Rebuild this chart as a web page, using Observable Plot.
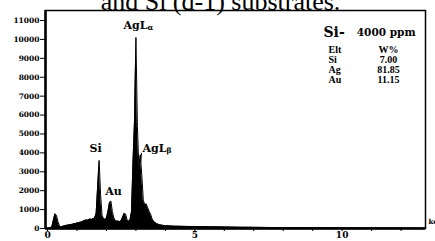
<!DOCTYPE html>
<html>
<head>
<meta charset="utf-8">
<script src="https://cdn.jsdelivr.net/npm/d3@7"></script>
<script src="https://cdn.jsdelivr.net/npm/@observablehq/plot@0.6"></script>
<style>
  html, body { margin: 0; padding: 0; background: white; }
  #chart svg { display: block; }
</style>
</head>
<body>
<div id="chart"></div>
<script>
// EDS spectrum (energy in keV, counts)
const energy = [
  0.00,0.05,0.10,0.15,0.20,0.25,0.30,0.35,0.40,0.45,
  0.50,0.55,0.60,0.65,0.70,0.75,0.80,0.85,0.90,0.95,
  1.00,1.05,1.10,1.15,1.20,1.25,1.30,1.35,1.40,1.45,
  1.50,1.55,1.60,1.65,1.70,1.75,1.80,1.85,1.90,1.95,
  2.00,2.05,2.10,2.15,2.20,2.25,2.30,2.35,2.40,2.45,
  2.50,2.55,2.60,2.65,2.70,2.75,2.80,2.85,2.90,2.95,
  3.00,3.05,3.10,3.15,3.20,3.25,3.30,3.35,3.40,3.45,
  3.50,3.55,3.60,3.65,3.70,3.75,3.80,3.85,3.90,3.95,
  4.00,4.10,4.20,4.30,4.40,4.50,4.75,5.00,5.50,6.00,
  6.50,7.00,7.50,8.00,8.50,9.00,9.50,10.00,10.50,11.00,
  11.50,12.00,12.50,12.80
];
const counts = [
  0,10,30,120,450,780,700,380,150,90,
  110,130,150,170,180,200,210,230,250,260,
  290,300,330,340,380,420,450,430,470,500,
  480,520,560,800,2200,3600,1800,700,520,480,
  560,900,1350,1450,900,560,420,380,400,350,
  420,600,800,760,450,380,450,900,3500,5600,
  10100,5400,3200,3900,2800,1500,1250,1300,1100,900,
  750,500,380,320,260,230,200,180,170,160,
  150,140,130,125,120,115,110,105,95,85,
  70,60,55,50,45,40,35,30,28,25,
  22,20,18,15
];

const yTicks = [0,1000,2000,3000,4000,5000,6000,7000,8000,9000,10000,11000];
const xTicks = [0,1,2,3,4,5,6,7,8,9,10,11,12];
const xTickLabels = [0,5,10];

// peak annotations (label text and anchor in keV / counts)
const peakNames = ["Si","Au"];
const peakNameX = [1.63, 2.24];
const peakNameY = [4230, 1960];
const agNames = ["AgL","AgL"];
const agSubs = ["α","β"];
const agX = [2.58, 3.22];
const agY = [10740, 4230];

const caption = "and Si (d-1) substrates.";
const sampleTitle = "Si-";
const sampleConc = "4000 ppm";
const tableElt = ["Elt","Si","Ag","Au"];
const tableW = ["W%","7.00","81.85","11.15"];

const spectrum = energy.map((e, i) => ({e, c: counts[i]}));
const xMin = -0.07, xMax = 12.83, yMax = 11530;

const serifB = "DejaVu Serif";
const tableRows = tableElt.map((t, i) => ({t, w: tableW[i], i}));

const chart = Plot.plot({
  width: 435,
  height: 241,
  marginLeft: 45,
  marginRight: 10,
  marginTop: 10,
  marginBottom: 13,
  style: {fontFamily: serifB, fontWeight: "bold", background: "white", color: "black"},
  x: {domain: [xMin, xMax], axis: null},
  y: {domain: [0, yMax], axis: null},
  marks: [
    Plot.areaY(spectrum, {x: "e", y: "c", fill: "black", curve: "linear"}),
    Plot.lineY(spectrum, {x: "e", y: "c", stroke: "black", strokeWidth: 1}),
    Plot.frame({stroke: "black", strokeWidth: 1.5}),
    Plot.ruleX([xMin], {stroke: "black", strokeWidth: 2.5}),
    Plot.ruleY([0], {stroke: "black", strokeWidth: 2.5}),
    Plot.axisY({ticks: yTicks, label: null, tickSize: 5, tickPadding: 1, fontSize: 7.5, fontWeight: "bold", fontFamily: serifB, tickFormat: d => String(d)}),
    Plot.axisX({ticks: xTicks, label: null, tickSize: 3, tickPadding: 0, fontSize: 9, fontWeight: "bold", fontFamily: serifB,
      tickFormat: d => xTickLabels.includes(d) ? String(d) : ""}),
    // peak labels
    Plot.text(peakNames, {x: (d, i) => peakNameX[i], y: (d, i) => peakNameY[i], text: d => d, fontSize: 11, fontWeight: "bold", fontFamily: serifB}),
    Plot.text(agNames, {x: (d, i) => agX[i], y: (d, i) => agY[i], text: d => d, textAnchor: "start", fontSize: 11, fontWeight: "bold", fontFamily: serifB}),
    Plot.text(agSubs, {x: (d, i) => agX[i], y: (d, i) => agY[i], text: d => d, textAnchor: "start", dx: 24, dy: 2.5, fontSize: 7.5, fontWeight: "bold", fontFamily: serifB}),
    Plot.link([0], {x1: 3.19, y1: 4000, x2: 3.16, y2: 3500, stroke: "black", strokeWidth: 1}),
    // caption cut by the top edge
    Plot.text([caption], {frameAnchor: "top", dx: -15, dy: -1, lineAnchor: "bottom", fontSize: 26, fontWeight: "normal", fontFamily: "Liberation Serif"}),
    // sample title
    Plot.text([sampleTitle], {frameAnchor: "top-right", dx: -102, dy: 17, textAnchor: "start", fontSize: 14, fontWeight: "bold", fontFamily: serifB}),
    Plot.text([sampleConc], {frameAnchor: "top-right", dx: -10, dy: 18, textAnchor: "end", fontSize: 10.5, fontWeight: "bold", fontFamily: serifB}),
    // table
    ...tableRows.map(r => Plot.text([r.t], {frameAnchor: "top-right", dx: -97, dy: 35 + r.i * 10, textAnchor: "start", fontSize: 10, fontWeight: "bold", fontFamily: "Liberation Serif"})),
    ...tableRows.map(r => Plot.text([r.w], {frameAnchor: "top-right", dx: -37, dy: 35 + r.i * 10, textAnchor: "middle", fontSize: 10, fontWeight: "bold", fontFamily: "Liberation Serif"})),
    Plot.text(["keV"], {frameAnchor: "bottom-right", dx: 3, dy: -5, textAnchor: "start", fontSize: 7, fontWeight: "bold", fontFamily: serifB})
  ]
});
document.getElementById("chart").appendChild(chart);
</script>
</body>
</html>
